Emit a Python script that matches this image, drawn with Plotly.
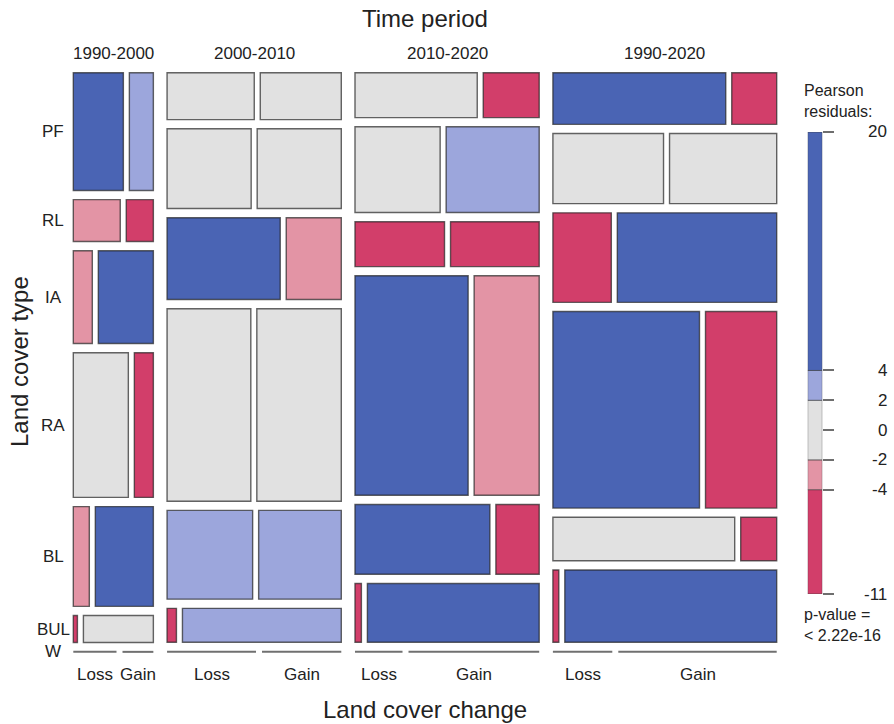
import plotly.graph_objects as go

# ---- data -----------------------------------------------------------------
periods = ["1990-2000", "2000-2010", "2010-2020", "1990-2020"]
cover_types = ["PF", "RL", "IA", "RA", "BL", "BUL", "W"]
changes = ["Loss", "Gain"]

# relative area of each cell, ordered as cover_types
loss_1990_2000 = [63.8, 21.3, 19.1, 86.2, 17.3, 1.2, 0.14]
gain_1990_2000 = [30.6, 12.3, 55.3, 29.8, 62.7, 20.4, 0.10]
loss_2000_2010 = [42.4, 69.6, 96.0, 167.2, 78.8, 3.3, 0.46]
gain_2000_2010 = [39.4, 69.6, 46.7, 168.6, 76.1, 55.9, 0.41]
loss_2010_2020 = [56.8, 75.6, 41.6, 257.0, 97.5, 3.9, 0.24]
gain_2010_2020 = [26.0, 82.6, 41.2, 147.8, 31.3, 104.7, 0.66]
loss_1990_2020 = [91.9, 79.8, 53.8, 296.5, 81.3, 4.4, 0.30]
gain_1990_2020 = [23.9, 77.3, 146.8, 144.0, 16.1, 157.8, 0.80]

# Pearson residuals of each cell
resid_loss_1990_2000 = [9.5, -2.6, -3.1, 1.2, -3.4, -5.6, 0.0]
resid_gain_1990_2000 = [2.8, -4.9, 6.2, -7.3, 8.1, 0.9, 0.0]
resid_loss_2000_2010 = [0.8, -1.1, 7.7, 0.4, 2.5, -6.8, 0.0]
resid_gain_2000_2010 = [-0.6, 1.4, -2.9, -1.5, 3.3, 3.1, 0.0]
resid_loss_2010_2020 = [1.7, -1.3, -6.1, 20.0, 10.4, -9.0, 0.0]
resid_gain_2010_2020 = [-5.2, 2.9, -5.5, -3.8, -8.2, 11.6, 0.0]
resid_loss_1990_2020 = [14.3, 0.6, -7.4, 17.2, -1.8, -10.2, 0.0]
resid_gain_1990_2020 = [-8.7, -0.9, 13.1, -11.0, -6.6, 12.5, 0.0]

loss = [loss_1990_2000, loss_2000_2010, loss_2010_2020, loss_1990_2020]
gain = [gain_1990_2000, gain_2000_2010, gain_2010_2020, gain_1990_2020]
resid_loss = [resid_loss_1990_2000, resid_loss_2000_2010,
              resid_loss_2010_2020, resid_loss_1990_2020]
resid_gain = [resid_gain_1990_2000, resid_gain_2000_2010,
              resid_gain_2010_2020, resid_gain_1990_2020]

# residual shading scale
legend_breaks = [-11, -4, -2, 2, 4, 20]
shade_colors = ["#D23E6A", "#E394A5", "#E1E1E1", "#9CA6DC", "#4A64B4"]
legend_ticks = [20, 4, 2, 0, -2, -4, -11]
p_value_text = "< 2.22e-16"

# ---- layout constants -----------------------------------------------------
FIG_W, FIG_H = 894, 724
X0, X1 = 73.3, 776.7          # mosaic frame (pixel space)
Y0, Y1 = 72.7, 652.0
GAP_PERIOD, GAP_TYPE, GAP_CHANGE = 13.7, 9.2, 6.0
FONT = "Liberation Sans, Arial, Helvetica, sans-serif"
TXT = "#222222"
BORDER = "rgba(35,35,35,0.7)"
ZERO_LINE = "#707070"


def shade(r):
    for hi, col in zip(legend_breaks[1:], shade_colors):
        if r <= hi:
            return col
    return shade_colors[-1]


shapes, annotations = [], []


def label(x, y, text, size=17, **kw):
    d = dict(x=x, y=y, xref="x", yref="y", text=text, showarrow=False,
             font=dict(family=FONT, size=size, color=TXT),
             xanchor="center", yanchor="middle")
    d.update(kw)
    annotations.append(d)


period_tot = [sum(l) + sum(g) for l, g in zip(loss, gain)]
grand = sum(period_tot)
avail_w = (X1 - X0) - GAP_PERIOD * (len(periods) - 1)
avail_h = (Y1 - Y0) - GAP_TYPE * (len(cover_types) - 1)

x = X0
for p, period in enumerate(periods):
    w = avail_w * period_tot[p] / grand
    y = Y0
    for t, ct in enumerate(cover_types):
        row = loss[p][t] + gain[p][t]
        h = avail_h * row / period_tot[p]
        wl = (w - GAP_CHANGE) * loss[p][t] / row
        cells = [(x, x + wl, resid_loss[p][t], changes[0]),
                 (x + wl + GAP_CHANGE, x + w, resid_gain[p][t], changes[1])]
        for xa, xb, r, ch in cells:
            if h < 1.0:
                shapes.append(dict(type="line", xref="x", yref="y",
                                   x0=xa, x1=xb, y0=y + h / 2, y1=y + h / 2,
                                   line=dict(color=ZERO_LINE, width=2)))
            else:
                shapes.append(dict(type="rect", xref="x", yref="y",
                                   x0=xa, x1=xb, y0=y, y1=y + h,
                                   fillcolor=shade(r),
                                   line=dict(color=BORDER, width=1.4)))
            if t == len(cover_types) - 1:
                label((xa + xb) / 2, 674, ch)
        if p == 0:
            label(53, y + h / 2, ct)
        y += h + GAP_TYPE
    label(x + w / 2, 53, period)
    x += w + GAP_PERIOD

# axis titles
mid_x = (X0 + X1) / 2
label(mid_x, 18, "Time period", size=24)
label(mid_x, 709, "Land cover change", size=24)
label(19, 362, "Land cover type", size=24, textangle=-90)

# legend texts
label(801.5, 100.5, "Pearson<br>residuals:", size=16, xanchor="left",
      align="left")
label(801.5, 625, "p-value =<br>" + p_value_text, size=16, xanchor="left",
      align="left")

LEG_TOP, LEG_BOT = 132.0, 594.0
for v in legend_ticks:
    annotations.append(dict(x=888.5 / FIG_W, y=v, xref="paper", yref="y2",
                            text=str(v), showarrow=False,
                            font=dict(family=FONT, size=17, color=TXT),
                            xanchor="right", yanchor="middle"))

fig = go.Figure()
# empty trace so the main pixel-space subplot exists
fig.add_trace(go.Scatter(x=[], y=[], xaxis="x", yaxis="y",
                         hoverinfo="skip", showlegend=False))
# residual legend: one stacked segment per shading band
fig.add_trace(go.Bar(
    x=[0] * len(shade_colors),
    base=legend_breaks[:-1],
    y=[hi - lo for lo, hi in zip(legend_breaks[:-1], legend_breaks[1:])],
    width=1, marker=dict(color=shade_colors,
                         line=dict(color="rgba(60,60,60,0.6)", width=1)),
    xaxis="x2", yaxis="y2", showlegend=False, hoverinfo="skip"))

fig.update_layout(
    width=FIG_W, height=FIG_H,
    margin=dict(l=0, r=0, t=0, b=0),
    paper_bgcolor="white", plot_bgcolor="rgba(0,0,0,0)",
    showlegend=False,
    xaxis=dict(domain=[0, 1], range=[0, FIG_W], visible=False,
               fixedrange=True),
    yaxis=dict(domain=[0, 1], range=[FIG_H, 0], visible=False,
               fixedrange=True),
    xaxis2=dict(domain=[807.7 / FIG_W, 822.3 / FIG_W], range=[-0.5, 0.5],
                anchor="y2", visible=False, fixedrange=True),
    yaxis2=dict(domain=[(FIG_H - LEG_BOT) / FIG_H, (FIG_H - LEG_TOP) / FIG_H],
                range=[legend_breaks[0], legend_breaks[-1]], anchor="x2",
                side="right", ticks="outside", ticklen=11, tickwidth=1.5,
                tickcolor="#6e6e6e", tickvals=legend_ticks,
                showticklabels=False, showgrid=False, zeroline=False,
                showline=False, fixedrange=True),
    shapes=shapes,
    annotations=annotations,
)

fig.write_html("out.html")
